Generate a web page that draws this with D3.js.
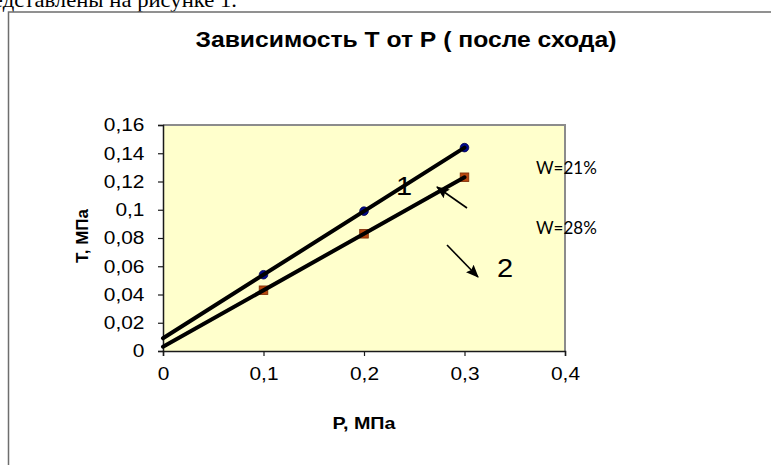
<!DOCTYPE html>
<html>
<head>
<meta charset="utf-8">
<script src="https://cdn.jsdelivr.net/npm/d3@7"></script>
<style>
  html, body { margin: 0; padding: 0; background: #fff; }
  svg { display: block; }
</style>
</head>
<body>
<svg id="chart" width="771" height="465"></svg>
<script>
// Pressure P, MPa
const pressure = [0.1, 0.2, 0.3];
// Shear stress T, MPa, for two moisture contents
const seriesW21 = [0.054, 0.099, 0.144];
const seriesW28 = [0.043, 0.083, 0.123];
const seriesNames = ["W=21%", "W=28%"];
const xTicks = [0, 0.1, 0.2, 0.3, 0.4];
const yTicks = [0, 0.02, 0.04, 0.06, 0.08, 0.1, 0.12, 0.14, 0.16];

const svg = d3.select("#chart");
const comma = v => String(v).replace(".", ",");
const font = "Liberation Sans, Arial, sans-serif";
const SX = 1.16; // glyphs are drawn slightly wide

// least-squares straight line through a series
function linearFit(xs, ys) {
  const n = xs.length;
  const mx = d3.mean(xs), my = d3.mean(ys);
  let sxy = 0, sxx = 0;
  for (let i = 0; i < n; i++) {
    sxy += (xs[i] - mx) * (ys[i] - my);
    sxx += (xs[i] - mx) * (xs[i] - mx);
  }
  const b = sxy / sxx;
  return { slope: b, intercept: my - b * mx };
}

// text widened horizontally around its anchor point
function wideText(x, y, str, opts) {
  const g = svg.append("g").attr("transform", `translate(${x},${y}) scale(${opts.sx || SX},1)`);
  return g.append("text")
    .attr("text-anchor", opts.anchor || "start")
    .attr("font-family", opts.family || font)
    .attr("font-weight", opts.weight || "normal")
    .attr("font-size", opts.size)
    .attr("fill", "#000")
    .text(str);
}

// running text of the page above the chart
wideText(237, 7, "представлены на рисунке 1.",
  { anchor: "end", family: "Liberation Serif, Times New Roman, serif", size: 21, sx: 1.08 });

// chart frame
svg.append("rect")
  .attr("x", 8.5).attr("y", 12).attr("width", 800).attr("height", 500)
  .attr("fill", "#fff").attr("stroke", "#6e6e6e").attr("stroke-width", 1.5);

wideText(406, 47, "Зависимость Т от Р ( после схода)", { anchor: "middle", weight: "bold", size: 21.3 });

const x = d3.scaleLinear().domain([0, 0.4]).range([163, 565]);
const y = d3.scaleLinear().domain([0, 0.16]).range([351, 125]);

// plot area
svg.append("rect")
  .attr("x", x(0)).attr("y", y(0.16))
  .attr("width", x(0.4) - x(0)).attr("height", y(0) - y(0.16))
  .attr("fill", "#ffffcc");
svg.append("path")
  .attr("d", `M${x(0)},${y(0.16)}H${x(0.4)}V${y(0)}`)
  .attr("fill", "none").attr("stroke", "#8c8c8c").attr("stroke-width", 2);

const yAxis = svg.append("g")
  .attr("transform", `translate(${x(0)},0)`)
  .call(d3.axisLeft(y).tickValues(yTicks).tickSize(5).tickPadding(11).tickFormat(comma));
const xAxis = svg.append("g")
  .attr("transform", `translate(0,${y(0)})`)
  .call(d3.axisBottom(x).tickValues(xTicks).tickSize(5).tickPadding(11).tickFormat(comma));
[xAxis, yAxis].forEach(g => {
  g.select(".domain").attr("stroke", "#1a1a1a").attr("stroke-width", 1.5);
  g.selectAll(".tick line").attr("stroke", "#1a1a1a").attr("stroke-width", 1.2);
  g.selectAll(".tick text")
    .attr("font-family", font).attr("font-size", 18).attr("fill", "#000")
    .attr("transform", `scale(${SX},1)`);
});

// axis titles
wideText(364, 429, "Р, МПа", { anchor: "middle", weight: "bold", size: 17 });
svg.append("text")
  .attr("transform", `translate(88,236) rotate(-90)`)
  .attr("text-anchor", "middle")
  .attr("font-family", font).attr("font-weight", "bold").attr("font-size", 17)
  .text("Т, МПа");

// markers
const series = [
  { name: seriesNames[0], values: seriesW21 },
  { name: seriesNames[1], values: seriesW28 }
];
svg.append("g").selectAll("circle")
  .data(pressure.map((p, i) => [p, seriesW21[i]]))
  .join("circle")
  .attr("cx", d => x(d[0])).attr("cy", d => y(d[1])).attr("r", 4.3)
  .attr("fill", "#000a8c").attr("stroke", "#000050").attr("stroke-width", 0.8);
svg.append("g").selectAll("rect")
  .data(pressure.map((p, i) => [p, seriesW28[i]]))
  .join("rect")
  .attr("x", d => x(d[0]) - 4.3).attr("y", d => y(d[1]) - 4.3)
  .attr("width", 8.6).attr("height", 8.6)
  .attr("fill", "#b8480e").attr("stroke", "#7a2a05").attr("stroke-width", 0.8);

// linear trend lines from P = 0 to the last measurement
series.forEach(s => {
  const fit = linearFit(pressure, s.values);
  const x0 = 0, x1 = d3.max(pressure);
  svg.append("line")
    .attr("x1", x(x0)).attr("y1", y(fit.intercept + fit.slope * x0))
    .attr("x2", x(x1)).attr("y2", y(fit.intercept + fit.slope * x1))
    .attr("stroke", "#000").attr("stroke-width", 4).attr("stroke-linecap", "round");
});

// series labels
const labelFont = "Lato, Open Sans, sans-serif";
wideText(536, 174, seriesNames[0], { family: labelFont, size: 17, sx: 1 });
wideText(536, 234, seriesNames[1], { family: labelFont, size: 17, sx: 1 });

// curve numbers and pointer arrows
svg.append("defs").append("marker")
  .attr("id", "head").attr("viewBox", "0 0 12 10")
  .attr("markerUnits", "userSpaceOnUse")
  .attr("refX", 11).attr("refY", 5)
  .attr("markerWidth", 13).attr("markerHeight", 11)
  .attr("orient", "auto")
  .append("path").attr("d", "M0,0L12,5L0,10L2,5z").attr("fill", "#000");

wideText(396, 195, "1", { size: 25 });
wideText(497, 277, "2", { size: 25 });

svg.append("line")
  .attr("x1", 467).attr("y1", 208).attr("x2", 437).attr("y2", 187)
  .attr("stroke", "#000").attr("stroke-width", 1.6).attr("marker-end", "url(#head)");
svg.append("line")
  .attr("x1", 447).attr("y1", 245).attr("x2", 478).attr("y2", 277)
  .attr("stroke", "#000").attr("stroke-width", 1.6).attr("marker-end", "url(#head)");
</script>
</body>
</html>
